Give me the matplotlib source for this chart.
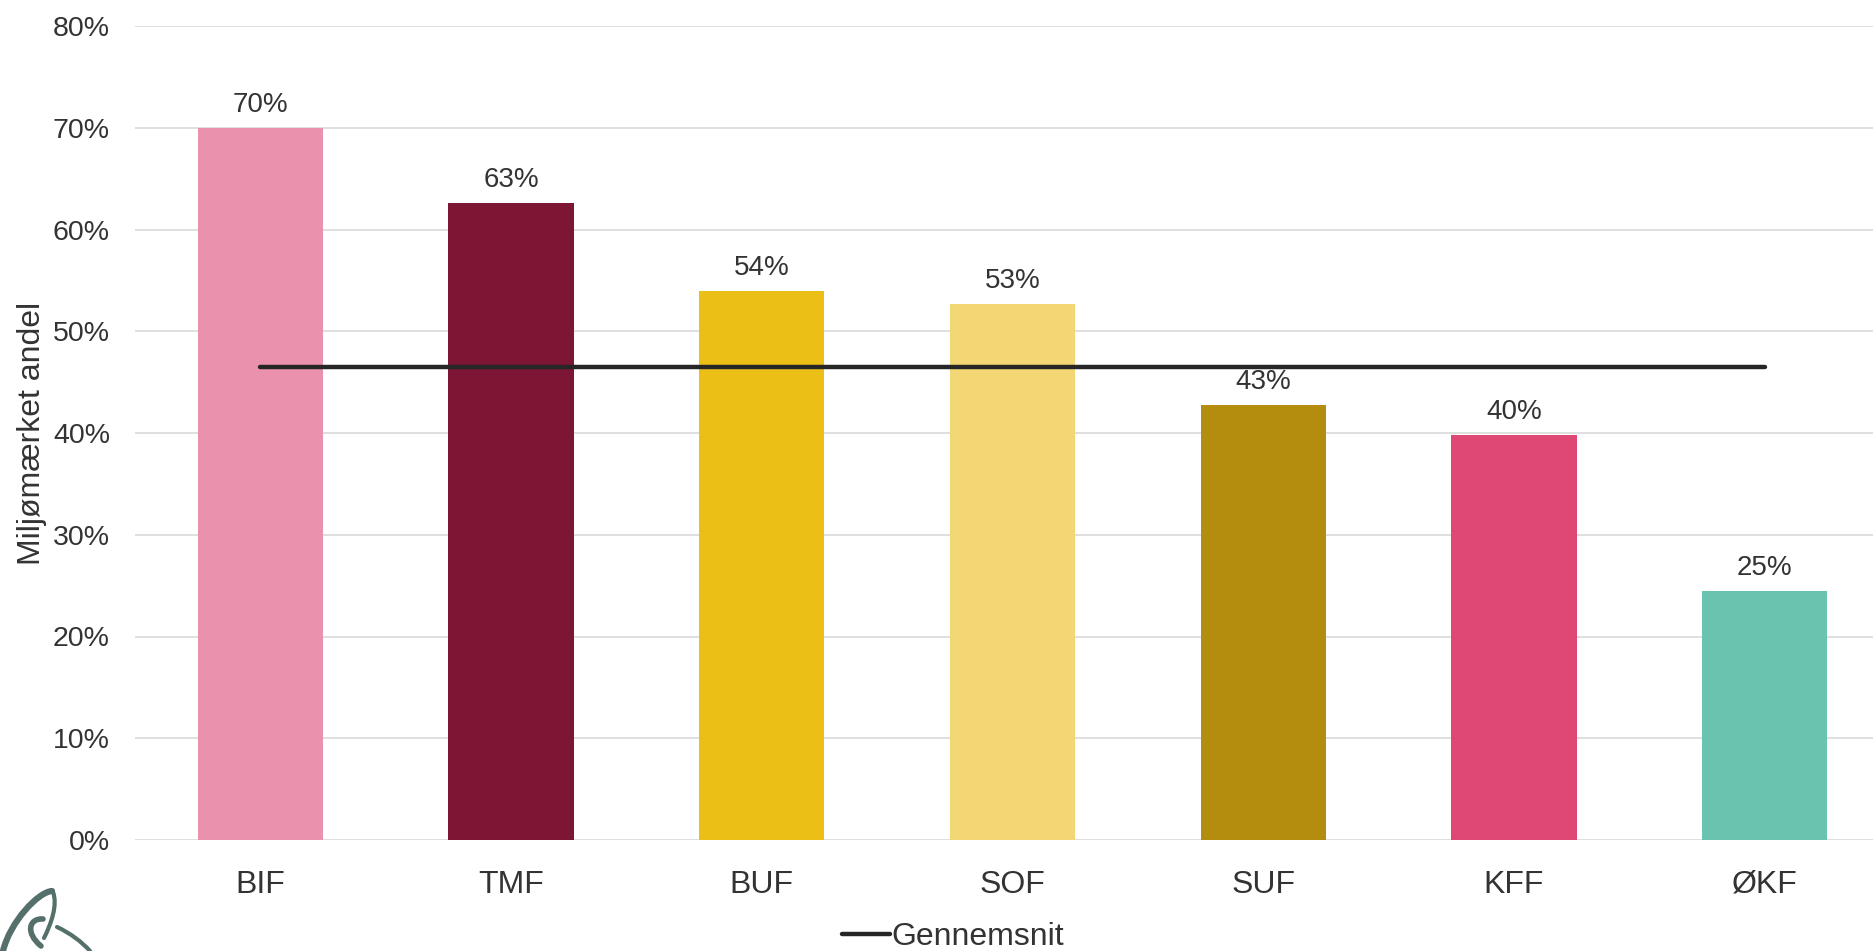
import matplotlib.pyplot as plt
from matplotlib.path import Path
from matplotlib.patches import PathPatch
from matplotlib.ticker import PercentFormatter

plt.rcParams['font.family'] = ['Liberation Sans', 'DejaVu Sans']

categories = ["BIF", "TMF", "BUF", "SOF", "SUF", "KFF", "ØKF"]
shares = [0.70, 0.626, 0.540, 0.527, 0.428, 0.398, 0.245]
labels = ["70%", "63%", "54%", "53%", "43%", "40%", "25%"]
colors = ["#EA91AD", "#7D1535", "#EBBF16", "#F3D775", "#B58D0E", "#DF4874", "#6AC3AE"]
average = 0.465

W, H = 1874, 951
fig = plt.figure(figsize=(W / 100, H / 100), dpi=100)

# plot area in pixels: left 135, right 1890 (runs off the edge), top 26, bottom 840
left, right, top, bottom = 135, 1890, 26, 840
ax = fig.add_axes([left / W, 1 - bottom / H, (right - left) / W, (bottom - top) / H])

text_color = "#333333"
x = range(len(categories))
ax.bar(x, shares, width=0.5, color=colors, zorder=2)
ax.plot([0, len(categories) - 1], [average] * 2, color="#262626", lw=3.2,
        solid_capstyle="round", zorder=3, label="Gennemsnit")

for xi, v, lab in zip(x, shares, labels):
    ax.annotate(lab, (xi, v), xytext=(0, 7), textcoords="offset points",
                ha="center", va="bottom", fontsize=20, color=text_color, zorder=4)

ax.set_xlim(-0.5, len(categories) - 0.5)
ax.set_ylim(0, 0.8)
ax.set_yticks([i / 10 for i in range(9)])
ax.yaxis.set_major_formatter(PercentFormatter(1.0, decimals=0))
ax.set_xticks(list(x))
ax.set_xticklabels(categories)
ax.tick_params(length=0, colors=text_color)
ax.tick_params(axis="x", labelsize=23, pad=21.5)
ax.tick_params(axis="y", labelsize=20.5, pad=18)
ax.grid(axis="y", color="#d9d9d9", lw=1.2, zorder=0)
for s in ax.spines.values():
    s.set_visible(False)
ax.set_ylabel("Miljømærket andel", fontsize=23, color=text_color)
ax.yaxis.set_label_coords(-88 / (right - left), 0.5)

fig.legend(loc="center", bbox_to_anchor=(953 / W, 1 - 937 / H), frameon=False,
           fontsize=23, labelcolor=text_color, handlelength=1.5, handletextpad=0.05)

# corner emblem, drawn in pixel coordinates
logo = fig.add_axes([0, 0, 1, 1], zorder=-1)
logo.set_xlim(0, W)
logo.set_ylim(H, 0)
logo.axis("off")
green = "#55706a"
strokes = [
    ([(52, 891), (38, 892), (10, 922), (3, 951)], 4.5),
    ([(53, 892), (58, 905), (51, 924), (44, 938)], 3.0),
    ([(43, 919), (29, 918), (25, 933), (41, 946)], 4.0),
    ([(57, 927), (70, 933), (82, 942), (90, 951)], 3.0),
]
for pts, lw in strokes:
    path = Path(pts, [Path.MOVETO, Path.CURVE4, Path.CURVE4, Path.CURVE4])
    logo.add_patch(PathPatch(path, fill=False, ec=green, lw=lw, capstyle="round"))

fig.savefig("out.png", dpi=100)
